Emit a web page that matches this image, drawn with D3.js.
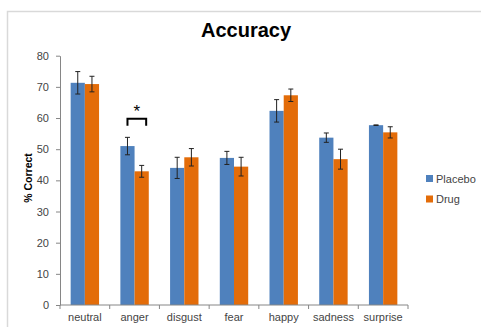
<!DOCTYPE html>
<html>
<head>
<meta charset="utf-8">
<script src="https://cdn.jsdelivr.net/npm/d3@7"></script>
<style>
  html, body { margin: 0; padding: 0; background: #fff; }
  svg { display: block; font-family: "Liberation Sans", Arial, sans-serif; }
</style>
</head>
<body>
<svg id="chart" width="481" height="327"></svg>
<script>
// Emotion categories and mean accuracy (% correct) per condition
const categories = ["neutral", "anger", "disgust", "fear", "happy", "sadness", "surprise"];
const seriesNames = ["Placebo", "Drug"];
const placeboValues = [71.3, 51.0, 44.0, 47.2, 62.3, 53.7, 57.7];
const drugValues = [70.9, 42.9, 47.4, 44.4, 67.3, 46.8, 55.4];
// Standard error for each bar
const placeboErrors = [3.6, 2.8, 3.4, 2.1, 3.6, 1.5, 0.1];
const drugErrors = [2.5, 1.9, 2.8, 3.0, 2.0, 3.2, 1.8];
const yTicks = [0, 10, 20, 30, 40, 50, 60, 70, 80];
const colors = ["#4F81BD", "#E36C09"];
// Significant difference marker
const sigCategory = "anger";

const svg = d3.select("#chart");

// Outer chart-area frame
svg.append("rect")
  .attr("x", 7.5).attr("y", 11.5)
  .attr("width", 490).attr("height", 330)
  .attr("fill", "#fff").attr("stroke", "#d9d9d9").attr("stroke-width", 1.5);

const plot = { left: 60, right: 408, top: 55.7, bottom: 305 };

const x0 = d3.scaleBand().domain(categories).range([plot.left, plot.right]).padding(0);
const x1 = d3.scaleBand().domain(seriesNames).range([0, x0.bandwidth()])
  .paddingInner(0).paddingOuter(0.75);
const y = d3.scaleLinear().domain([0, 80]).range([plot.bottom, plot.top]);

const rows = categories.map((c, i) => ({
  category: c,
  bars: [
    { series: "Placebo", value: placeboValues[i], err: placeboErrors[i] },
    { series: "Drug", value: drugValues[i], err: drugErrors[i] }
  ]
}));

// Title
svg.append("text")
  .attr("x", 246).attr("y", 37)
  .attr("text-anchor", "middle")
  .attr("font-size", 20).attr("font-weight", "bold").attr("fill", "#000")
  .text("Accuracy");

// Bars
const groups = svg.append("g").selectAll("g")
  .data(rows).join("g")
  .attr("transform", d => `translate(${x0(d.category)},0)`);

groups.selectAll("rect")
  .data(d => d.bars).join("rect")
  .attr("x", d => x1(d.series))
  .attr("y", d => y(d.value))
  .attr("width", x1.bandwidth())
  .attr("height", d => y(0) - y(d.value))
  .attr("fill", (d, i) => colors[i]);

// Error bars
const cap = 2.5;
const eb = groups.selectAll("g.err")
  .data(d => d.bars).join("g").attr("class", "err")
  .attr("stroke", "#222").attr("stroke-width", 1);
eb.append("line")
  .attr("x1", d => x1(d.series) + x1.bandwidth() / 2)
  .attr("x2", d => x1(d.series) + x1.bandwidth() / 2)
  .attr("y1", d => y(d.value + d.err))
  .attr("y2", d => y(d.value - d.err));
eb.append("line")
  .attr("x1", d => x1(d.series) + x1.bandwidth() / 2 - cap)
  .attr("x2", d => x1(d.series) + x1.bandwidth() / 2 + cap)
  .attr("y1", d => y(d.value + d.err))
  .attr("y2", d => y(d.value + d.err));
eb.append("line")
  .attr("x1", d => x1(d.series) + x1.bandwidth() / 2 - cap)
  .attr("x2", d => x1(d.series) + x1.bandwidth() / 2 + cap)
  .attr("y1", d => y(d.value - d.err))
  .attr("y2", d => y(d.value - d.err));

// Y axis
const yAxis = svg.append("g")
  .attr("transform", `translate(${plot.left},0)`)
  .call(d3.axisLeft(y).tickValues(yTicks).tickSizeInner(4).tickSizeOuter(0).tickPadding(7));
yAxis.select(".domain").attr("stroke", "#868686");
yAxis.selectAll(".tick line").attr("stroke", "#868686");
yAxis.selectAll(".tick text")
  .attr("font-size", 11).attr("fill", "#444")
  .attr("font-family", "Liberation Sans, Arial, sans-serif");

// X axis with ticks at category boundaries
const xAxis = svg.append("g")
  .attr("transform", `translate(0,${plot.bottom})`);
xAxis.append("line")
  .attr("x1", plot.left).attr("x2", plot.right)
  .attr("stroke", "#868686");
xAxis.selectAll("line.bound")
  .data(categories.concat(["__end"])).join("line").attr("class", "bound")
  .attr("x1", (d, i) => i < categories.length ? x0(d) : plot.right)
  .attr("x2", (d, i) => i < categories.length ? x0(d) : plot.right)
  .attr("y1", 0).attr("y2", 4)
  .attr("stroke", "#868686");
xAxis.selectAll("text")
  .data(categories).join("text")
  .attr("x", d => x0(d) + x0.bandwidth() / 2)
  .attr("y", 16)
  .attr("text-anchor", "middle")
  .attr("font-size", 11).attr("fill", "#444")
  .text(d => d);

// Y axis title
svg.append("text")
  .attr("transform", "translate(32,178) rotate(-90)")
  .attr("text-anchor", "middle")
  .attr("font-size", 10.5).attr("font-weight", "bold").attr("fill", "#000")
  .text("% Correct");

// Significance bracket
const sigIdx = categories.indexOf(sigCategory);
const sigRow = rows[sigIdx];
const bx1 = x0(sigCategory) + x1("Placebo") + x1.bandwidth() / 2;
const bx2 = x0(sigCategory) + x1("Drug") + x1.bandwidth() / 2 + 4.5;
const by = y(d3.max(sigRow.bars, b => b.value + b.err)) - 18.5;
svg.append("path")
  .attr("d", `M${bx1},${by + 7}V${by}H${bx2}V${by + 7}`)
  .attr("fill", "none").attr("stroke", "#000").attr("stroke-width", 2);
svg.append("text")
  .attr("x", (bx1 + bx2) / 2).attr("y", by - 1.5)
  .attr("text-anchor", "middle")
  .attr("font-size", 17).attr("fill", "#000")
  .text("*");

// Legend
const legend = svg.append("g").selectAll("g")
  .data(seriesNames).join("g")
  .attr("transform", (d, i) => `translate(426,${175 + i * 20.5})`);
legend.append("rect")
  .attr("width", 7).attr("height", 7)
  .attr("fill", (d, i) => colors[i]);
legend.append("text")
  .attr("x", 10).attr("y", 7.5)
  .attr("font-size", 11).attr("fill", "#444")
  .text(d => d);
</script>
</body>
</html>
